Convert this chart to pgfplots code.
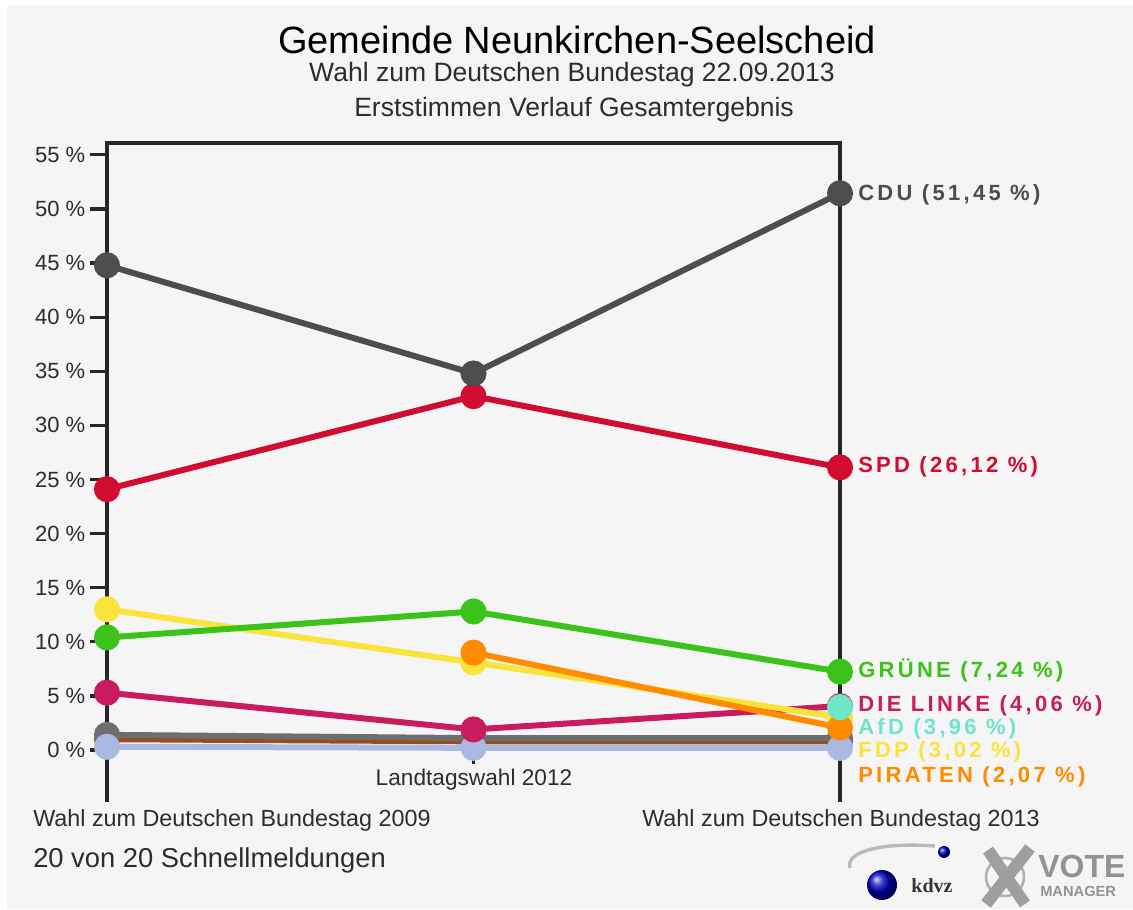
\documentclass[border=0pt]{standalone}
\usepackage{pgfplots}
\pgfplotsset{compat=1.18}
\usepackage{fontspec}
\setmainfont{Liberation Sans}
\newfontfamily\lblfont[LetterSpace=15]{Liberation Sans}
\newfontfamily\seriffont{Liberation Serif}
\definecolor{bg}{RGB}{245,245,245}
\definecolor{txt}{RGB}{45,45,45}
\definecolor{cdu}{RGB}{77,77,77}
\definecolor{spd}{RGB}{210,12,48}
\definecolor{gruene}{RGB}{60,195,25}
\definecolor{fdp}{RGB}{250,228,60}
\definecolor{linke}{RGB}{200,28,95}
\definecolor{piraten}{RGB}{255,140,0}
\definecolor{afd}{RGB}{110,230,200}
\definecolor{sonst}{RGB}{110,110,110}
\definecolor{brn}{RGB}{150,78,30}
\definecolor{lblue}{RGB}{170,185,225}
\begin{document}
\begin{tikzpicture}
\fill[white] (0,0) rectangle (849.75pt,681.75pt);
\fill[bg] (5pt,0pt) rectangle (849.75pt,678pt);
\begin{axis}[
  at={(80.25pt,81.75pt)}, anchor=south west,
  scale only axis, width=549.75pt, height=492.75pt,
  xmin=0, xmax=2, ymin=-4.62, ymax=56.1,
  clip=false,
  axis line style={draw=none},
  xtick=\empty,
  ytick={0,5,...,55},
  yticklabels={0 \%,5 \%,10 \%,15 \%,20 \%,25 \%,30 \%,35 \%,40 \%,45 \%,50 \%,55 \%},
  ytick pos=left, tick align=outside,
  major tick length=12.75pt,
  tick style={line width=2.4pt, color=black!85},
  yticklabel style={font=\fontsize{16.5}{18}\selectfont, text=txt},
  every axis plot/.append style={line width=4.5pt, mark=*, mark size=7.5pt},
]
\draw[line width=2.6pt, black!85] (axis cs:0,-4.8) -- (axis cs:0,56.1) -- (axis cs:2,56.1) -- (axis cs:2,-4.8);
\draw[line width=2pt, black!85] (axis cs:1,-0.6) -- (axis cs:1,-1.3);
\addplot[color=brn, mark options={fill=brn}] coordinates {(0,1.0) (1,0.8) (2,0.8)};
\addplot[color=sonst, mark options={fill=sonst}] coordinates {(0,1.4) (1,1.1) (2,1.1)};
\addplot[color=lblue, mark options={fill=lblue}] coordinates {(0,0.3) (1,0.2) (2,0.2)};
\addplot[color=linke, mark options={fill=linke}] coordinates {(0,5.3) (1,1.9) (2,4.06)};
\addplot[color=fdp, mark options={fill=fdp}] coordinates {(0,13.0) (1,8.1) (2,3.02)};
\addplot[color=piraten, mark options={fill=piraten}] coordinates {(1,9.0) (2,2.07)};
\addplot[color=afd, mark options={fill=afd}] coordinates {(2,3.96)};
\addplot[color=gruene, mark options={fill=gruene}] coordinates {(0,10.4) (1,12.8) (2,7.24)};
\addplot[color=spd, mark options={fill=spd}] coordinates {(0,24.1) (1,32.7) (2,26.12)};
\addplot[color=cdu, mark options={fill=cdu}] coordinates {(0,44.8) (1,34.8) (2,51.45)};
\begin{scope}[every node/.style={anchor=west, inner sep=0pt, xshift=13.5pt, font=\lblfont\bfseries\fontsize{16.5}{18}\selectfont}]
\node[text=cdu] at (axis cs:2,51.3) {CDU (51,45 \%)};
\node[text=spd] at (axis cs:2,26.2) {SPD (26,12 \%)};
\node[text=gruene] at (axis cs:2,7.4) {GRÜNE (7,24 \%)};
\node[text=linke] at (axis cs:2,4.07) {DIE LINKE (4,06 \%)};
\node[text=afd] at (axis cs:2,1.94) {AfD (3,96 \%)};
\node[text=fdp] at (axis cs:2,-0.18) {FDP (3,02 \%)};
\node[text=piraten] at (axis cs:2,-2.5) {PIRATEN (2,07 \%)};
\end{scope}
\end{axis}
\begin{scope}[x=0.75pt,y=-0.75pt,shift={(0,681.75pt)}]
\node[font=\fontsize{28.5}{30}\selectfont, text=black] at (577,40) {Gemeinde Neunkirchen-Seelscheid};
\node[font=\fontsize{19.9}{22}\selectfont, text=txt] at (572,75) {Wahl zum Deutschen Bundestag 22.09.2013};
\node[font=\fontsize{19.9}{22}\selectfont, text=txt] at (574,110) {Erststimmen Verlauf Gesamtergebnis};
\node[anchor=west, inner sep=0pt, font=\fontsize{17.5}{19}\selectfont, text=txt] at (33,820) {Wahl zum Deutschen Bundestag 2009};
\node[inner sep=0pt, font=\fontsize{17}{19}\selectfont, text=txt] at (474,780) {Landtagswahl 2012};
\node[inner sep=0pt, font=\fontsize{17.5}{19}\selectfont, text=txt] at (841,820) {Wahl zum Deutschen Bundestag 2013};
\node[anchor=west, inner sep=0pt, font=\fontsize{20.5}{22}\selectfont, text=txt] at (33,860) {20 von 20 Schnellmeldungen};
% logo
\draw[gray!55, line width=2.5] (935,846) .. controls (880,842) and (845,852) .. (850,868);
\shade[ball color=blue!75!black] (882,885) circle (15);
\shade[ball color=blue!75!black] (944,852) circle (6);
\node[font=\seriffont\bfseries\fontsize{15}{15}\selectfont, text=black!80] at (932,886) {kdvz};
\draw[gray!60, line width=2] (1005,877) circle (19);
\draw[gray!75, line width=9] (988,850) -- (1025,904);
\draw[gray!75, line width=9] (1030,848) -- (986,904);
\node[anchor=west, inner sep=0pt, font=\bfseries\fontsize{24}{24}\selectfont, text=gray!85] at (1038,866) {VOTE};
\node[anchor=west, inner sep=0pt, font=\bfseries\fontsize{11}{11}\selectfont, text=gray!85] at (1040,891) {MANAGER};
\end{scope}
\end{tikzpicture}
\end{document}
